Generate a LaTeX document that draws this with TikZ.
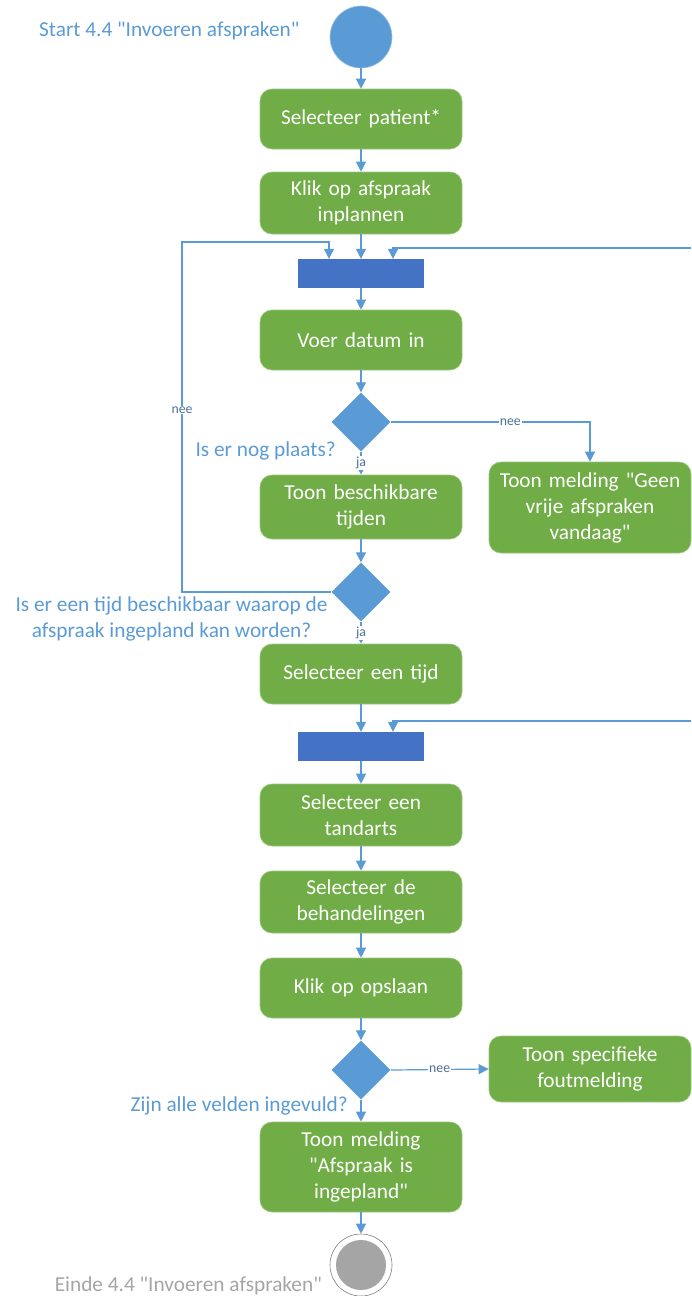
\documentclass[tikz,border=0pt]{standalone}
\usepackage{fontspec}
% a family without the TeX ligature mapping, so that " stays a straight quote
\newfontfamily\calfont{Carlito}
\usetikzlibrary{shapes.geometric,arrows.meta,calc}

\definecolor{actgreen}{HTML}{70AD47}
\definecolor{barblue}{HTML}{4472C4}
\definecolor{flowblue}{HTML}{5B9BD5}
\definecolor{lblblue}{HTML}{4E6F9C}
\definecolor{endgray}{HTML}{A5A5A5}

\tikzset{
  activity/.style={rectangle, rounded corners=12pt, fill=actgreen, draw=actgreen!70!white, line width=0.6pt,
    minimum width=202pt, text width=190pt, align=center, text=white, inner sep=0pt,
    font=\calfont\fontsize{21.3}{26}\selectfont},
  syncbar/.style={rectangle, fill=barblue, minimum width=126pt, minimum height=29pt, inner sep=0pt},
  choice/.style={diamond, aspect=1, fill=flowblue, minimum width=59pt, minimum height=59pt, inner sep=0pt},
  flow/.style={draw=flowblue, line width=1.2pt, -{Triangle[width=10pt,length=10pt]}},
  guard/.style={fill=white, text=lblblue, inner sep=1pt, font=\calfont\fontsize{13.8}{15}\selectfont},
  question/.style={text=flowblue, inner sep=0pt, font=\calfont\fontsize{21.3}{26}\selectfont},
}

\begin{document}
\begin{tikzpicture}[x=1pt, y=-1pt]
\useasboundingbox (0,0) rectangle (691,1296);

% start and end
\node[circle, fill=flowblue, draw=flowblue!60!white, line width=0.6pt, minimum size=62pt, inner sep=0pt] (start) at (361,37) {};
\node[question, anchor=base west] (startlbl) at (39,36) {Start 4.4 "Invoeren afspraken"};

% activities, bars and decisions
\node[activity, minimum height=60pt] (b1) at (361,119) {Selecteer patient*};
\node[activity, minimum height=62pt] (b2) at (361,203) {Klik op afspraak\\inplannen};
\node[syncbar] (bar1) at (361,273.5) {};
\node[activity, minimum height=60pt] (b3) at (361,340) {Voer datum in};
\node[choice] (d1) at (361,422) {};
\node[question, anchor=base east] (q1) at (336,456) {Is er nog plaats?};
\node[activity, minimum height=64pt] (b4) at (361,507) {Toon beschikbare\\tijden};
\node[activity, minimum height=91pt] (bR) at (590,507.5) {Toon melding "Geen\\vrije afspraken\\vandaag"};
\node[choice] (d2) at (361,592) {};
\node[question, anchor=base] (q2a) at (171.5,611) {Is er een tijd beschikbaar waarop de};
\node[question, anchor=base] (q2b) at (171.5,637) {afspraak ingepland kan worden?};
\node[activity, minimum height=60pt] (b5) at (361,674) {Selecteer een tijd};
\node[syncbar] (bar2) at (361,746.5) {};
\node[activity, minimum height=62pt] (b6) at (361,815) {Selecteer een\\tandarts};
\node[activity, minimum height=62pt] (b7) at (361,902) {Selecteer de\\behandelingen};
\node[activity, minimum height=60pt] (b8) at (361,988) {Klik op opslaan};
\node[choice] (d3) at (361,1070) {};
\node[question, anchor=base east] (q3) at (348,1111) {Zijn alle velden ingevuld?};
\node[activity, minimum height=66pt] (b9) at (590,1069) {Toon specifieke\\foutmelding};
\node[activity, minimum height=90pt] (b10) at (361,1167) {Toon melding\\"Afspraak is\\ingepland"};

\node[circle, draw=gray, line width=0.6pt, fill=white, minimum size=62pt, inner sep=0pt] (stop) at (361,1265) {};
\node[circle, fill=endgray, minimum size=50pt, inner sep=0pt] (stopdot) at (stop.center) {};
\node[anchor=base east, text=endgray, inner sep=0pt, font=\calfont\fontsize{21.3}{26}\selectfont] (endlbl) at (322,1291) {Einde 4.4 "Invoeren afspraken"};

% loose ends of the lines coming in from the right
\coordinate (in1) at (691,248);
\coordinate (in2) at (691,721);
\coordinate (loopc) at (182,242);

% connectors
\draw[flow] (start) -- (b1);
\draw[flow] (b1) -- (b2);
\draw[flow] (b2) -- (bar1);
\draw[flow] (in1) -| ([xshift=32pt]bar1.north);
\draw[flow] (d2.west) -| (loopc) node[guard, pos=0.76] {nee} -| ([xshift=-32pt]bar1.north);
\draw[flow] (bar1) -- (b3);
\draw[flow] (b3) -- (d1);
\draw[flow] (d1) -- (b4) node[guard, midway] {ja};
\draw[flow] (d1.east) -| (bR.north) node[guard, pos=0.3] {nee};
\draw[flow] (b4) -- (d2);
\draw[flow] (d2) -- (b5) node[guard, midway] {ja};
\draw[flow] (b5) -- (bar2);
\draw[flow] (in2) -| ([xshift=32pt]bar2.north);
\draw[flow] (bar2) -- (b6);
\draw[flow] (b6) -- (b7);
\draw[flow] (b7) -- (b8);
\draw[flow] (b8) -- (d3);
\draw[flow] (d3.east) -- (b9.west) node[guard, midway] {nee};
\draw[flow] (d3) -- (b10);
\draw[flow] (b10) -- (stop);
\end{tikzpicture}
\end{document}
